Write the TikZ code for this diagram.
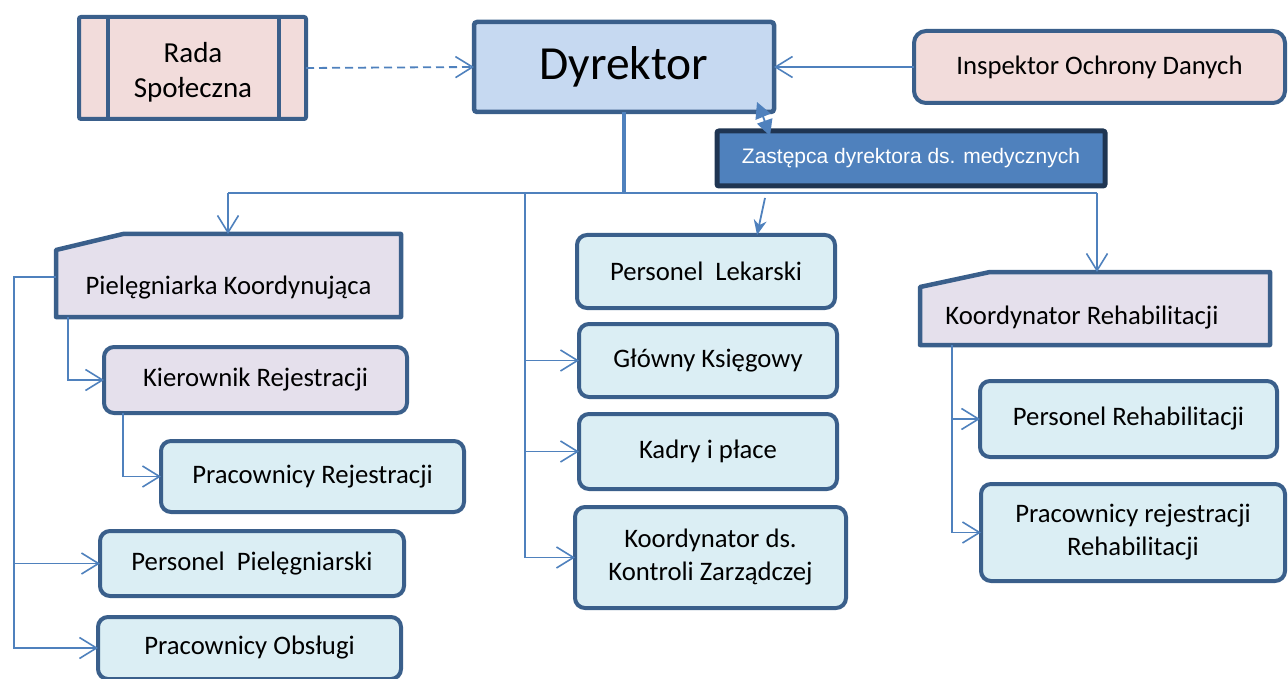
\documentclass[tikz,border=0pt]{standalone}
\usepackage{fontspec}
\setmainfont{Carlito}
\newfontfamily\arialf{Liberation Sans}
\usetikzlibrary{arrows.meta,calc}

\definecolor{bord}{HTML}{3A5F8B}
\definecolor{lineblue}{HTML}{4F81BD}
\definecolor{pinkf}{HTML}{F2DCDB}
\definecolor{dyrf}{HTML}{C6D9F1}
\definecolor{lavf}{HTML}{E5E0EC}
\definecolor{cyanf}{HTML}{DBEEF4}
\definecolor{zastf}{HTML}{4F81BD}
\definecolor{zastb}{HTML}{1F3552}

\begin{document}
\begin{tikzpicture}[x=1pt,y=-1pt,
  every node/.style={inner sep=0pt, outer sep=0pt, align=center, font=\fontsize{26.7}{33}\selectfont},
  rbox/.style={draw=bord, line width=4pt, rounded corners=10pt, fill=cyanf},
  lbox/.style={rbox, fill=lavf},
  cline/.style={draw=lineblue, line width=1.8pt},
  arr/.style={cline, -{Straight Barb[length=17pt,width=21pt,line width=1.6pt]}},
  cutshape/.style={draw=bord, line width=4.5pt, fill=lavf, line join=round},
  solidtip/.style={cline, -{Triangle[length=16pt,width=16pt]}},
]
\useasboundingbox (0,0) rectangle (1288,679);

% ---- top row ----
\node[draw=bord, line width=4pt, rounded corners=2pt, fill=pinkf, minimum width=227pt, minimum height=102pt] (rada) at (192.5,68) {};
\draw[bord, line width=4pt] ($(rada.north west)+(29,0)$) -- ($(rada.south west)+(29,0)$);
\draw[bord, line width=4pt] ($(rada.north east)+(-27,0)$) -- ($(rada.south east)+(-27,0)$);
\node[font=\fontsize{29}{35}\selectfont] (radatxt) at (193,72) {Rada\\Społeczna};

\node[draw=bord, line width=4.5pt, rounded corners=3pt, fill=dyrf, minimum width=300pt, minimum height=90pt, font=\fontsize{47.5}{50}\selectfont] (dyr) at (624,67) {Dyrektor};

\node[rbox, fill=pinkf, rounded corners=12pt, minimum width=371pt, minimum height=72pt] (insp) at (1099.5,67) {Inspektor Ochrony Danych};

\node[draw=zastb, line width=5pt, rounded corners=2pt, fill=zastf, text=white, minimum width=388pt, minimum height=55pt, font=\arialf\fontsize{21}{24}\selectfont] (zast) at (911,158.5) {Zastępca dyrektora ds. medycznych};

% ---- left column ----
\path node[minimum width=345pt, minimum height=83pt] (piel) at (228.5,275.5) {};
\draw[cutshape] ($(piel.north west)+(0,16)$) -- ($(piel.north west)+(67,0)$) -- (piel.north east) -- (piel.south east) -- (piel.south west) -- cycle;
\node (pieltxt) at (228.5,288) {Pielęgniarka Koordynująca};

\node[lbox, minimum width=303pt, minimum height=66pt] (kier) at (255.5,380) {Kierownik Rejestracji};
\node[rbox, minimum width=303pt, minimum height=71pt] (prej) at (312.5,476.5) {Pracownicy Rejestracji};
\node[rbox, minimum width=304pt, minimum height=65pt] (ppiel) at (252,563.5) {Personel\ \ Pielęgniarski};
\node[rbox, minimum width=303pt, minimum height=62pt] (pobs) at (249.5,648) {Pracownicy Obsługi};

% ---- middle column ----
\node[rbox, minimum width=258pt, minimum height=73pt] (plek) at (706,271.5) {Personel\ \ Lekarski};
\node[rbox, minimum width=258pt, minimum height=73pt] (gks) at (708,360.5) {Główny Księgowy};
\node[rbox, minimum width=258pt, minimum height=75pt] (kadry) at (708,451.5) {Kadry i płace};
\node[rbox, minimum width=271pt, minimum height=101pt] (kkz) at (710.5,557.5) {Koordynator ds.\\Kontroli Zarządczej};

% ---- right column ----
\path node[minimum width=350pt, minimum height=73pt] (krehab) at (1095,308.5) {};
\draw[cutshape] ($(krehab.north west)+(0,15)$) -- ($(krehab.north west)+(70,0)$) -- (krehab.north east) -- (krehab.south east) -- (krehab.south west) -- cycle;
\node (krehabtxt) at (1082,318) {Koordynator Rehabilitacji};

\node[rbox, minimum width=297pt, minimum height=76pt] (prehab) at (1128.5,419) {Personel Rehabilitacji};
\node[rbox, minimum width=304pt, minimum height=97pt] (prrehab) at (1133,532.5) {Pracownicy rejestracji\\Rehabilitacji};

% ---- connectors ----
\draw[arr, dash pattern=on 8pt off 5pt] (rada.east) -- (dyr.west);
\draw[arr] (insp.west) -- (dyr.east);

\coordinate (hl) at (228,193);
\coordinate (hr) at (1097,193);
\coordinate (vm) at (525,193);
\draw[cline, line width=3.5pt] (dyr.south) -- (dyr.south |- hl);
\draw[cline] (hl) -- (hr);
\draw[arr] (hl) -- (piel.north -| hl);
\draw[arr] (hr) -- (krehab.north -| hr);

\draw[cline] (vm) -- (vm |- kkz.west);
\draw[arr] (vm |- gks.west) -- (gks.west);
\draw[arr] (vm |- kadry.west) -- (kadry.west);
\draw[arr] (vm |- kkz.west) -- (kkz.west);

\coordinate (lx) at (14,277);
\draw[arr] (piel.west |- lx) -- (lx) -- (lx |- pobs.west) -- (pobs.west);
\draw[arr] (lx |- ppiel.west) -- (ppiel.west);

\coordinate (kx) at ($(piel.south west)+(12,0)$);
\draw[arr] (kx) -- (kx |- kier.west) -- (kier.west);
\coordinate (px) at ($(kier.south west)+(19,0)$);
\draw[arr] (px) -- (px |- prej.west) -- (prej.west);

\coordinate (rx) at ($(krehab.south west)+(32,0)$);
\draw[cline] (rx) -- (rx |- prrehab.west);
\draw[arr] (rx |- prehab.west) -- (prehab.west);
\draw[arr] (rx |- prrehab.west) -- (prrehab.west);

% short two-way link Dyrektor <-> Zastepca
\coordinate (dz) at (764,119);
\draw[solidtip] (dz) -- ($(dyr.south east)+(-17,-10)$);
\draw[solidtip] (dz) -- ($(zast.north west)+(53,5)$);
\draw[cline, -{Stealth[length=15pt,width=13pt]}] ($(zast.south west)+(48,12)$) -- ($(plek.north)+(51,0)$);
\end{tikzpicture}
\end{document}
